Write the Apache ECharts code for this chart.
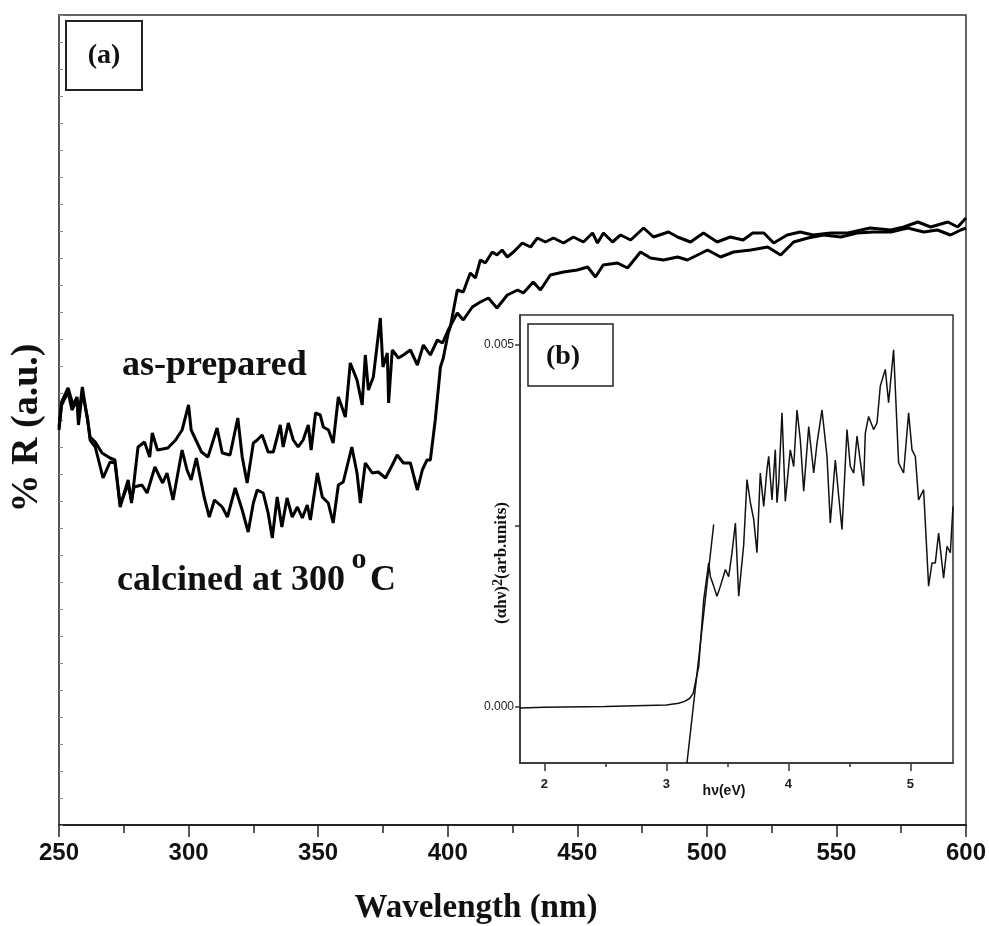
<!DOCTYPE html>
<html>
<head>
<meta charset="utf-8">
<script src="https://cdn.jsdelivr.net/npm/echarts@6/dist/echarts.min.js"></script>
<style>
  html, body { margin: 0; padding: 0; background: #fff; }
  #main { width: 989px; height: 926px; }
</style>
</head>
<body>
<div id="main"></div>
<script>
// (a) reflectance spectra, % R in a.u.
var asWl = [250,251,253.5,255.4,257,257.5,259,261,262,264,266.6,269.7,271.6,273.6,275.5,276.7,278,280.5,283,285,
  286,288,292,295,297.5,300,301,305,307.5,311,313,316,319,320.7,322.6,325,326.5,328.4,330.7,332.7,
  335.4,336.5,338.5,340.4,342.3,344.2,346.2,347.3,349,350.8,352,354,355.8,357.8,359.3,360.5,362.4,365,367,368.2,
  369.4,371.3,374,375,376.7,377.2,378.6,381,382.9,385.6,388.3,390.6,393.3,396,398,400.2,403.7,406,409.5,412.6,
  415.7,419,423,427,429.2,433,435.8,439.6,444.7,450,454,457,460,465.5,469.4,474.4,478.3,483.3,488.7,492.5,
  496.4,500.3,505.3,510.3,517,523.5,528.5,533.5,539,545,551.7,558,564.4,571,577.5,583.7,589,594,598,600];
var asR = [39.8,42.3,43.7,42.0,42.8,40.5,43.8,40.5,38.8,38.3,37.2,36.7,36.5,31.8,33.5,34.5,32.2,37.8,38.3,36.8,
  39.2,37.5,37.7,38.5,39.5,42.0,39.5,37.3,36.8,39.7,37.2,37.0,40.7,36.8,34.2,38.2,38.5,39.0,37.3,37.3,
  40.0,37.8,40.2,38.5,37.8,38.5,40.0,37.5,41.2,41.0,39.8,39.5,38.2,42.8,41.7,40.8,46.2,44.5,42.0,47.0,
  43.5,44.8,50.7,45.8,47.2,42.2,47.5,46.7,47.0,47.5,46.0,48.0,47.0,48.5,48.2,49.5,51.2,50.5,51.8,52.3,
  52.7,51.7,53.0,53.5,53.2,54.3,53.5,55.0,55.3,55.5,55.8,54.8,56.0,56.2,55.7,57.3,56.7,56.5,56.8,56.5,
  57.0,57.5,56.8,57.3,57.5,57.8,57.0,58.3,58.7,59.0,58.8,59.2,59.3,59.3,59.7,59.3,59.5,59.0,59.5,59.7];

var calWl = [250,251,253.5,255,257,257.5,259,261,262,264,267,269.7,271.6,273.6,275.5,276.7,278,279,282,284,
  287,290,291.7,294,297.5,299.4,301,303,306,308,310,313,315,318,320.7,323,325,326.5,328.8,330.7,
  332.3,334.2,336,338,340,342,343.9,345.8,347,349.7,351.6,353.9,355.8,357.8,359.7,363,365,366.3,368.2,370.9,
  373.2,376,378.6,380.5,382.9,385.6,388.3,390.2,392,393.3,395.2,397.2,398.3,400.2,401,403.7,406,408.7,410.7,412.6,
  414.5,417.2,419,421,423,425.4,428.8,432,434.6,437.7,440.8,444.7,448.5,452.4,455.9,457.8,460.1,463.6,466.7,470.6,
  475.6,479.4,485.2,488.7,493.7,498.7,504,509,514,517.7,522,525.8,531,536,541,547.8,554.4,563,571,576,
  581.4,586.4,593,596.8,600];
var calR = [39.5,42.0,43.3,41.5,42.5,40.0,43.3,40.7,38.5,37.8,34.7,36.3,36.2,32.0,33.3,34.0,32.5,33.8,34.0,33.2,
  35.8,34.2,35.2,32.5,37.5,35.5,34.5,36.7,32.8,30.8,32.5,31.8,30.8,33.7,31.5,29.3,32.2,33.5,33.2,31.2,
  28.7,32.8,29.8,32.7,30.8,31.8,30.7,32.0,30.5,35.2,32.8,32.2,30.2,34.0,34.3,37.8,35.2,32.2,36.2,35.2,
  35.3,34.7,36.0,37.0,36.2,36.2,33.5,35.5,36.5,36.5,40.5,45.8,46.7,49.2,49.8,53.5,53.3,55.2,54.7,56.5,
  56.2,57.3,57.0,57.5,56.8,57.3,58.2,57.8,58.7,58.3,58.7,58.2,58.8,58.3,59.2,58.2,59.2,58.3,59.0,58.5,
  59.7,58.8,59.3,58.8,58.3,59.2,58.3,58.8,58.5,59.2,59.2,58.2,59.0,59.3,59.0,59.2,59.2,59.7,59.5,59.8,
  60.3,59.8,60.3,59.8,60.7];

// (b) Tauc plot, (alpha h nu)^2 in units of 1e-3
var hvEv = [1.8,2.0,2.5,3.0,3.1,3.15,3.19,3.22,3.265,3.306,3.347,3.361,3.388,3.415,3.443,3.484,3.511,3.538,3.566,3.593,
  3.634,3.661,3.689,3.716,3.743,3.770,3.798,3.825,3.839,3.866,3.893,3.907,3.921,3.948,3.975,4.016,4.044,4.071,4.098,4.126,
  4.167,4.208,4.235,4.276,4.317,4.344,4.385,4.413,4.440,4.481,4.508,4.536,4.563,4.617,4.631,4.658,4.699,4.727,4.754,4.795,
  4.822,4.863,4.904,4.945,4.986,5.014,5.041,5.068,5.109,5.150,5.178,5.205,5.232,5.273,5.301,5.328,5.35];
var ahv = [-0.01,0.0,0.01,0.03,0.055,0.08,0.12,0.19,0.56,1.48,1.99,1.80,1.67,1.53,1.67,1.90,1.80,2.13,2.54,1.53,
  2.24,3.14,2.82,2.59,2.13,3.23,2.77,3.28,3.46,2.86,3.55,2.82,3.09,4.06,2.84,3.55,3.32,4.10,3.69,2.98,
  3.87,3.23,3.64,4.10,3.46,2.54,3.41,2.91,2.45,3.83,3.32,3.23,3.74,3.05,3.78,4.01,3.83,3.92,4.43,4.66,
  4.20,4.93,3.37,3.23,4.06,3.55,3.46,2.86,3.00,1.67,1.99,1.99,2.40,1.78,2.22,2.13,2.77];
var fitEv = [3.169, 3.388];
var fitAhv = [-0.77, 2.52];

var insetMajor = [2, 3, 4, 5];
var insetMinor = [2.5, 3.5, 4.5];
var insetYTicks = [0, 2.5, 5];
var insetYLabels = [0, 5];

function zip(a, b) {
  var out = [];
  for (var i = 0; i < a.length; i++) out.push([a[i], b[i]]);
  return out;
}

var serif = '"Liberation Serif", "Times New Roman", serif';
var sans = '"Liberation Sans", Arial, sans-serif';

var chart = echarts.init(document.getElementById('main'));
chart.setOption({
  animation: false,
  backgroundColor: '#fff',
  grid: [
    { left: 59, top: 15, right: 23, bottom: 101, show: true, borderColor: '#333', borderWidth: 1.5 },
    { left: 520, top: 315, width: 433, height: 448, show: true, borderColor: '#333', borderWidth: 1.5, backgroundColor: '#fff' }
  ],
  xAxis: [
    {
      type: 'value', gridIndex: 0, min: 250, max: 600, interval: 50,
      axisLine: { onZero: false, lineStyle: { color: '#222', width: 2 } },
      axisTick: { inside: false, length: 12, lineStyle: { color: '#222', width: 1.5 } },
      minorTick: { show: true, splitNumber: 2, length: 8, lineStyle: { color: '#222', width: 1.5 } },
      axisLabel: { margin: 16, fontFamily: sans, fontWeight: 'bold', fontSize: 24, color: '#111' },
      splitLine: { show: false }
    },
    {
      type: 'value', gridIndex: 1, min: 1.8, max: 5.35,
      axisLine: { onZero: false, lineStyle: { color: '#333', width: 1.5 } },
      axisTick: { length: 8, customValues: insetMajor, lineStyle: { color: '#333', width: 1.5 } },
      axisLabel: { customValues: insetMajor, margin: 15, fontFamily: sans, fontWeight: 'bold', fontSize: 13, color: '#222' },
      splitLine: { show: false }
    },
    {
      type: 'value', gridIndex: 1, min: 1.8, max: 5.35, position: 'bottom',
      axisLine: { show: false, onZero: false },
      axisTick: { length: 4, customValues: insetMinor, lineStyle: { color: '#333', width: 1.5 } },
      axisLabel: { show: false },
      splitLine: { show: false }
    }
  ],
  yAxis: [
    {
      type: 'value', gridIndex: 0, min: 0, max: 81, interval: 2.7,
      axisLine: { show: true, onZero: false, lineStyle: { color: '#555', width: 2 } },
      axisTick: { show: true, inside: true, length: 4, lineStyle: { color: '#888', width: 1 } },
      axisLabel: { show: false },
      splitLine: { show: false }
    },
    {
      type: 'value', gridIndex: 1, min: -0.77, max: 5.41,
      axisLine: { show: true, onZero: false, lineStyle: { color: '#333', width: 1.5 } },
      axisTick: { show: true, length: 5, customValues: insetYTicks, lineStyle: { color: '#333', width: 1.5 } },
      axisLabel: {
        customValues: insetYLabels, margin: 6, fontFamily: sans, fontSize: 12, color: '#222',
        formatter: function (v) { return (v / 1000).toFixed(3); }
      },
      splitLine: { show: false }
    }
  ],
  series: [
    {
      name: 'as-prepared', type: 'line', xAxisIndex: 0, yAxisIndex: 0, symbol: 'none',
      lineStyle: { color: '#000', width: 3 }, data: zip(asWl, asR)
    },
    {
      name: 'calcined at 300 °C', type: 'line', xAxisIndex: 0, yAxisIndex: 0, symbol: 'none',
      lineStyle: { color: '#000', width: 3 }, data: zip(calWl, calR)
    },
    {
      name: 'Tauc', type: 'line', xAxisIndex: 1, yAxisIndex: 1, symbol: 'none', z: 5,
      lineStyle: { color: '#111', width: 1.5 }, data: zip(hvEv, ahv)
    },
    {
      name: 'fit', type: 'line', xAxisIndex: 1, yAxisIndex: 1, symbol: 'none', z: 5,
      lineStyle: { color: '#111', width: 1.5 }, data: zip(fitEv, fitAhv)
    }
  ],
  graphic: [
    { type: 'rect', shape: { x: 66, y: 21, width: 76, height: 69 }, style: { fill: '#fff', stroke: '#222', lineWidth: 2 }, z: 10 },
    { type: 'text', x: 104, y: 56, z: 11, style: { text: '(a)', font: 'bold 28px ' + serif, fill: '#111', align: 'center', verticalAlign: 'middle' } },
    { type: 'rect', shape: { x: 528, y: 324, width: 85, height: 62 }, style: { fill: '#fff', stroke: '#222', lineWidth: 1.5 }, z: 10 },
    { type: 'text', x: 563, y: 357, z: 11, style: { text: '(b)', font: 'bold 28px ' + serif, fill: '#111', align: 'center', verticalAlign: 'middle' } },
    { type: 'text', x: 122, y: 366, z: 11, style: { text: 'as-prepared', font: 'bold 36px ' + serif, fill: '#111', align: 'left', verticalAlign: 'middle' } },
    { type: 'text', x: 117, y: 581, z: 11, style: { text: 'calcined at 300', font: 'bold 36px ' + serif, fill: '#111', align: 'left', verticalAlign: 'middle' } },
    { type: 'text', x: 359, y: 560, z: 11, style: { text: 'o', font: 'bold 30px ' + serif, fill: '#111', align: 'center', verticalAlign: 'middle' } },
    { type: 'text', x: 370, y: 581, z: 11, style: { text: 'C', font: 'bold 36px ' + serif, fill: '#111', align: 'left', verticalAlign: 'middle' } },
    { type: 'text', x: 476, y: 908, z: 11, style: { text: 'Wavelength (nm)', font: 'bold 33px ' + serif, fill: '#111', align: 'center', verticalAlign: 'middle' } },
    { type: 'text', x: 27, y: 428, rotation: Math.PI / 2, z: 11, style: { text: '% R (a.u.)', font: 'bold 38px ' + serif, fill: '#111', align: 'center', verticalAlign: 'middle' } },
    {
      type: 'text', x: 502, y: 563, rotation: Math.PI / 2, z: 11,
      style: {
        text: '{n|(αhν)}{s|2}{n|(arb.units)}', fill: '#111', align: 'center', verticalAlign: 'middle',
        rich: {
          n: { fontFamily: serif, fontWeight: 'bold', fontSize: 17, lineHeight: 22 },
          s: { fontFamily: serif, fontWeight: 'bold', fontSize: 14, lineHeight: 14, verticalAlign: 'top' }
        }
      }
    },
    { type: 'text', x: 724, y: 791, z: 11, style: { text: 'hν(eV)', font: 'bold 14px ' + sans, fill: '#111', align: 'center', verticalAlign: 'middle' } }
  ]
});
</script>
</body>
</html>
